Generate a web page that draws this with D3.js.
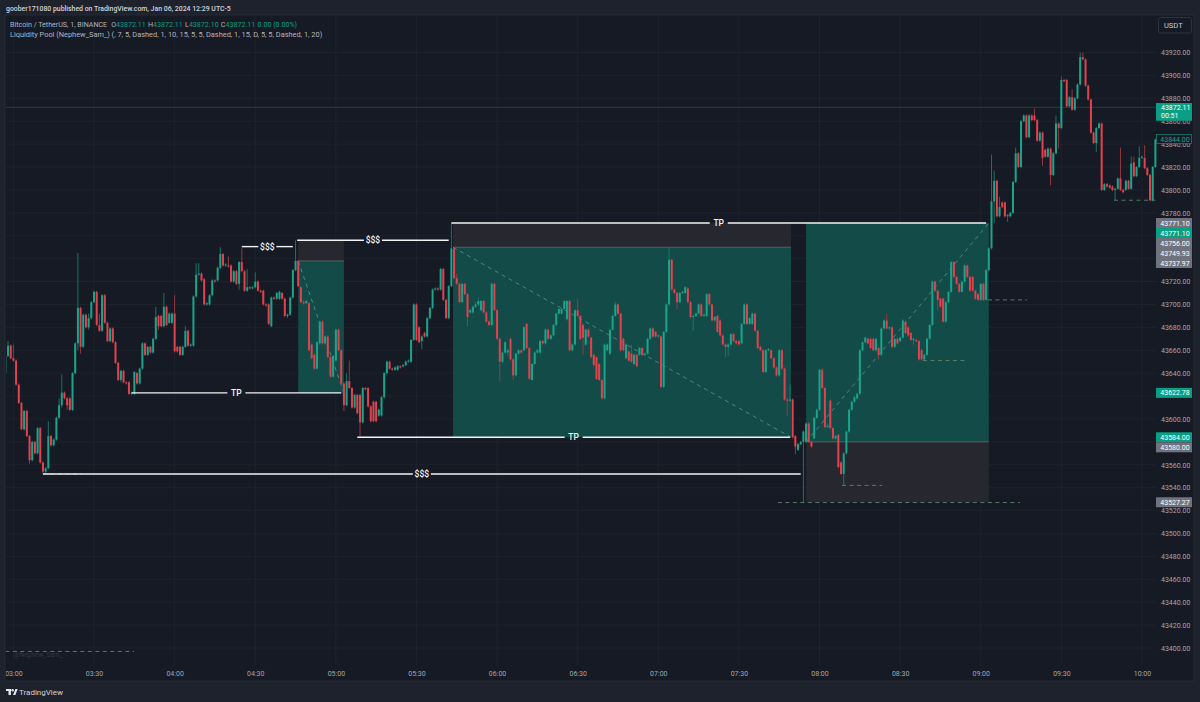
<!DOCTYPE html>
<html>
<head>
<meta charset="utf-8">
<script src="https://cdn.jsdelivr.net/npm/d3@7"></script>
<style>
  html, body { margin: 0; padding: 0; background: #1e222d; }
  svg { display: block; font-family: Roboto, sans-serif; }
</style>
</head>
<body>
<svg id="chart" width="1200" height="702"></svg>
<script>
// minutes since 03:00 of the first candle
const firstMinute = -3;

const opens = [
43640,43655,43664,43653,43651,43630,43614,43591,43607,43585,
43564,43580,43570,43592,43562,43554,43557,43585,43577,43582,
43601,43612,43623,43618,43618,43608,43640,43666,43697,43663,
43691,43680,43688,43702,43711,43682,43677,43708,43684,43668,
43679,43667,43649,43634,43642,43632,43632,43622,43622,43640,
43631,43644,43666,43656,43663,43658,43670,43690,43690,43681,
43698,43684,43684,43692,43663,43663,43656,43663,43677,43664,
43664,43707,43726,43727,43722,43700,43700,43708,43721,43721,
43732,43744,43734,43734,43734,43720,43729,43718,43737,43729,
43712,43715,43714,43715,43720,43712,43712,43700,43700,43681,
43706,43705,43705,43710,43705,43690,43691,43706,43730,43738,
43715,43702,43701,43701,43665,43656,43644,43666,43685,43666,
43672,43654,43637,43651,43678,43660,43631,43612,43633,43627,
43610,43621,43621,43597,43627,43627,43611,43615,43615,43603,
43603,43619,43640,43650,43644,43643,43643,43646,43646,43647,
43650,43650,43669,43700,43680,43668,43675,43672,43688,43697,
43713,43714,43713,43731,43704,43688,43716,43749,43723,43718,
43702,43718,43709,43693,43693,43698,43700,43695,43703,43693,
43685,43682,43718,43695,43670,43650,43658,43658,43670,43652,
43638,43657,43660,43660,43683,43662,43634,43648,43658,43658,
43668,43666,43678,43670,43673,43682,43692,43692,43696,43687,
43703,43660,43665,43695,43690,43682,43665,43678,43671,43656,
43654,43648,43634,43618,43660,43657,43678,43690,43700,43692,
43670,43653,43659,43657,43648,43656,43656,43662,43656,43657,
43670,43679,43676,43672,43672,43628,43676,43700,43739,43713,
43710,43702,43710,43710,43714,43702,43689,43690,43692,43700,
43690,43690,43709,43700,43686,43690,43686,43673,43665,43663,
43665,43674,43668,43668,43666,43683,43700,43683,43683,43692,
43677,43663,43660,43641,43660,43660,43653,43645,43638,43660,
43644,43617,43616,43617,43585,43573,43578,43580,43580,43596,
43580,43583,43601,43608,43643,43627,43593,43616,43592,43583,
43586,43562,43552,43570,43589,43608,43615,43618,43622,43660,
43667,43670,43670,43670,43660,43662,43656,43679,43686,43679,
43680,43663,43670,43668,43671,43685,43680,43675,43669,43669,
43668,43660,43652,43656,43670,43682,43720,43712,43705,43705,
43685,43702,43711,43737,43724,43718,43711,43720,43734,43724,
43724,43712,43709,43704,43718,43704,43730,43749,43790,43808,
43777,43789,43789,43778,43777,43780,43807,43832,43820,43860,
43865,43846,43865,43865,43861,43843,43850,43835,43829,43836,
43813,43832,43858,43854,43896,43896,43873,43881,43870,43880,
43892,43916,43914,43891,43879,43850,43841,43854,43858,43800,
43805,43804,43803,43800,43801,43810,43800,43800,43808,43801,
43824,43812,43820,43828,43828,43819,43813,43791,43820];

const highs = [
43668,43668,43665,43665,43652,43631,43615,43608,43608,43586,
43581,43581,43593,43593,43563,43558,43598,43586,43583,43602,
43618,43639,43624,43619,43619,43641,43667,43745,43698,43692,
43692,43692,43703,43712,43712,43692,43709,43709,43685,43680,
43680,43668,43650,43643,43643,43633,43633,43624,43642,43641,
43645,43667,43667,43664,43664,43671,43698,43691,43691,43710,
43699,43693,43693,43708,43664,43664,43664,43681,43678,43666,
43708,43736,43736,43728,43723,43702,43709,43722,43722,43733,
43750,43745,43736,43742,43735,43730,43730,43738,43749,43730,
43731,43716,43716,43728,43721,43713,43713,43701,43701,43707,
43707,43711,43712,43711,43706,43692,43707,43731,43756,43739,
43716,43704,43704,43702,43666,43657,43668,43686,43686,43673,
43673,43655,43656,43679,43679,43661,43632,43640,43651,43628,
43622,43622,43622,43628,43628,43628,43612,43616,43616,43609,
43620,43641,43651,43651,43645,43646,43647,43647,43648,43651,
43652,43670,43701,43701,43681,43673,43676,43689,43698,43714,
43715,43715,43732,43732,43705,43717,43771,43750,43727,43719,
43719,43719,43710,43696,43699,43702,43706,43704,43704,43694,
43686,43719,43719,43696,43671,43659,43668,43661,43671,43653,
43658,43661,43661,43681,43684,43663,43649,43659,43661,43669,
43669,43679,43679,43674,43683,43693,43697,43697,43704,43704,
43704,43666,43696,43705,43691,43684,43679,43679,43672,43657,
43655,43649,43635,43666,43666,43679,43691,43702,43701,43693,
43671,43666,43660,43665,43657,43657,43663,43663,43658,43671,
43680,43680,43677,43674,43673,43677,43701,43749,43740,43714,
43711,43711,43712,43716,43715,43703,43691,43693,43701,43701,
43692,43710,43710,43701,43690,43691,43687,43674,43666,43666,
43675,43675,43669,43669,43684,43701,43701,43689,43693,43693,
43678,43664,43661,43661,43662,43661,43654,43646,43661,43661,
43645,43618,43630,43618,43586,43579,43581,43590,43597,43597,
43581,43602,43609,43644,43644,43628,43596,43617,43593,43586,
43587,43563,43571,43590,43609,43616,43620,43623,43661,43668,
43672,43671,43671,43671,43671,43663,43680,43687,43692,43681,
43681,43671,43671,43672,43687,43686,43681,43676,43671,43670,
43669,43661,43657,43671,43683,43721,43721,43713,43706,43706,
43703,43712,43738,43738,43725,43719,43721,43735,43735,43725,
43725,43713,43710,43719,43719,43731,43750,43831,43817,43809,
43794,43790,43790,43779,43781,43808,43837,43833,43861,43866,
43866,43866,43866,43871,43862,43851,43851,43836,43837,43837,
43833,43865,43859,43899,43897,43897,43882,43888,43881,43893,
43920,43920,43915,43892,43880,43851,43855,43859,43859,43806,
43806,43805,43804,43802,43811,43837,43801,43809,43809,43829,
43829,43821,43838,43830,43839,43820,43814,43821,43845];

const lows = [
43635,43654,43652,43650,43629,43613,43590,43590,43584,43561,
43563,43569,43569,43561,43552,43553,43556,43576,43576,43581,
43600,43610,43617,43608,43607,43607,43639,43660,43657,43662,
43679,43678,43687,43701,43681,43676,43676,43683,43667,43667,
43666,43648,43633,43632,43631,43630,43621,43621,43621,43630,
43630,43643,43655,43655,43657,43657,43669,43678,43680,43680,
43681,43683,43683,43658,43658,43655,43655,43662,43663,43663,
43663,43706,43725,43720,43699,43699,43699,43707,43719,43720,
43731,43733,43733,43732,43719,43719,43717,43713,43728,43711,
43711,43713,43713,43714,43711,43710,43699,43698,43682,43680,
43704,43704,43704,43704,43689,43688,43690,43705,43729,43715,
43701,43700,43700,43659,43652,43643,43643,43665,43665,43665,
43653,43636,43636,43650,43659,43630,43607,43611,43626,43609,
43609,43604,43585,43596,43625,43610,43597,43597,43597,43602,
43602,43618,43639,43643,43642,43642,43642,43644,43645,43646,
43649,43649,43668,43668,43666,43661,43671,43671,43687,43696,
43712,43712,43712,43703,43687,43687,43715,43722,43717,43701,
43701,43708,43681,43692,43692,43697,43699,43694,43692,43684,
43681,43681,43694,43669,43633,43649,43657,43655,43651,43634,
43637,43656,43657,43659,43661,43634,43633,43647,43657,43657,
43665,43665,43669,43669,43672,43681,43691,43691,43695,43686,
43659,43659,43664,43689,43669,43656,43664,43671,43653,43646,
43634,43633,43617,43617,43659,43656,43677,43689,43691,43659,
43659,43652,43650,43649,43647,43645,43655,43655,43655,43656,
43669,43671,43671,43671,43627,43627,43675,43699,43712,43709,
43696,43701,43709,43709,43701,43688,43677,43689,43691,43689,
43689,43689,43699,43685,43685,43675,43672,43664,43654,43655,
43664,43667,43665,43664,43665,43682,43682,43682,43682,43676,
43661,43659,43640,43640,43659,43652,43644,43637,43637,43643,
43616,43603,43615,43583,43569,43572,43577,43527,43579,43579,
43575,43582,43600,43607,43626,43592,43592,43591,43582,43582,
43557,43551,43542,43569,43588,43607,43614,43617,43621,43659,
43666,43665,43661,43659,43659,43652,43655,43678,43678,43678,
43662,43662,43665,43667,43670,43674,43672,43668,43665,43667,
43651,43651,43651,43655,43669,43681,43711,43695,43697,43684,
43684,43701,43710,43723,43717,43710,43710,43719,43723,43711,
43711,43704,43703,43703,43703,43703,43729,43748,43771,43776,
43776,43784,43776,43772,43776,43779,43806,43819,43819,43859,
43845,43845,43860,43860,43842,43842,43821,43828,43828,43804,
43812,43831,43836,43853,43894,43872,43872,43869,43869,43879,
43891,43913,43890,43878,43849,43840,43833,43853,43799,43799,
43802,43801,43799,43791,43800,43799,43797,43799,43800,43800,
43811,43811,43819,43827,43818,43812,43790,43790,43819];

const closes = [
43655,43664,43653,43651,43630,43614,43591,43607,43585,43564,
43580,43570,43592,43562,43554,43557,43585,43577,43582,43601,
43612,43623,43618,43612,43608,43640,43666,43697,43663,43691,
43680,43688,43702,43711,43682,43677,43708,43684,43668,43679,
43667,43649,43634,43642,43632,43631,43622,43623,43641,43631,
43644,43666,43656,43663,43658,43670,43689,43681,43681,43698,
43682,43692,43692,43659,43659,43656,43663,43677,43664,43665,
43707,43726,43727,43721,43700,43701,43708,43721,43720,43732,
43744,43734,43735,43733,43720,43729,43718,43737,43729,43712,
43715,43714,43715,43720,43712,43711,43700,43699,43683,43706,
43705,43710,43711,43705,43690,43691,43706,43730,43738,43716,
43702,43701,43703,43660,43653,43644,43667,43685,43666,43672,
43654,43637,43655,43678,43660,43631,43612,43633,43627,43610,
43621,43605,43597,43627,43626,43611,43598,43598,43598,43608,
43619,43640,43650,43644,43643,43645,43646,43645,43647,43650,
43651,43669,43700,43669,43667,43672,43672,43688,43697,43713,
43714,43713,43731,43704,43688,43716,43749,43723,43718,43702,
43718,43709,43689,43695,43698,43700,43703,43703,43693,43685,
43682,43718,43695,43670,43650,43658,43667,43660,43652,43638,
43657,43660,43658,43680,43662,43635,43648,43658,43660,43668,
43666,43678,43670,43673,43682,43692,43696,43696,43703,43703,
43660,43665,43695,43690,43670,43671,43678,43672,43654,43647,
43635,43634,43618,43665,43665,43678,43690,43700,43692,43660,
43660,43665,43651,43650,43656,43646,43662,43656,43657,43670,
43679,43672,43672,43673,43628,43676,43700,43739,43713,43710,
43702,43710,43711,43715,43702,43689,43690,43692,43700,43690,
43691,43709,43700,43686,43689,43676,43673,43665,43663,43665,
43674,43668,43666,43665,43683,43700,43683,43688,43692,43677,
43662,43660,43641,43660,43661,43653,43645,43638,43660,43644,
43617,43616,43617,43584,43576,43578,43580,43589,43596,43580,
43576,43601,43608,43643,43627,43593,43594,43592,43583,43585,
43558,43552,43570,43589,43608,43615,43619,43622,43660,43667,
43671,43666,43662,43660,43670,43656,43679,43686,43679,43680,
43663,43670,43666,43671,43686,43675,43673,43669,43670,43668,
43652,43652,43656,43670,43682,43720,43712,43704,43698,43685,
43702,43711,43737,43724,43718,43711,43720,43734,43724,43712,
43712,43705,43704,43718,43704,43730,43749,43790,43808,43777,
43785,43785,43777,43777,43780,43807,43832,43820,43860,43865,
43846,43865,43861,43861,43843,43850,43828,43829,43836,43813,
43832,43858,43854,43896,43895,43873,43881,43870,43880,43892,
43916,43914,43891,43879,43850,43841,43854,43858,43800,43805,
43803,43802,43800,43801,43810,43800,43798,43808,43801,43823,
43812,43820,43828,43829,43819,43813,43791,43820,43844];

// axis ticks
const timeTicks = [0, 30, 60, 90, 120, 150, 180, 210, 240, 270, 300, 330, 360, 390, 420];
const timeLabels = ["03:00", "03:30", "04:00", "04:30", "05:00", "05:30", "06:00", "06:30", "07:00", "07:30", "08:00", "08:30", "09:00", "09:30", "10:00"];
const priceTicks = d3.range(43400, 43921, 20);
// these sit fully behind a price tag in the picture
const coveredTicks = [43760, 43740, 43620, 43580];

// position tool boxes: left, right, entry, stop, target
const boxLeft = [106, 163.6, 295];
const boxRight = [123, 289.4, 363];
const boxEntry = [43737.97, 43749.93, 43580];
const boxStop = [43756, 43771.10, 43527.27];
const boxTarget = [43622.78, 43584, 43771.10];

// white liquidity lines with a label in the middle
const levelStart = [85, 105.6, 44, 163, 128, 11];
const levelEnd = [104, 162, 122, 362, 289, 293];
const levelPrice = [43750.5, 43756, 43622.78, 43771.10, 43584, 43552];
const levelText = ["$$$", "$$$", "TP", "TP", "TP", "$$$"];

// thin dashed liquidity marks
const dashStart = [-3, 11, 284.5, 308.4, 338.5, 362.7, 409.6];
const dashEnd = [44.9, 25.5, 374.6, 323.3, 354.2, 377.2, 425];
const dashPrice = [43397, 43552, 43527, 43542, 43651, 43704, 43791];

// price scale tags, top to bottom
const tagValues = [43771.10, 43771.10, 43756, 43749.93, 43737.97, 43622.78, 43584, 43580, 43527.27];
const tagKinds = ["grey", "teal", "grey", "grey", "grey", "teal", "teal", "grey", "grey"];

const lastPrice = 43872.11;
const lastCountdown = "00:51";
const prevClose = 43844;

const GREEN = "#1aa58b";
const RED = "#e0434f";
const TEAL = "#0a9f85";
const BG = "#161a24";
const GRID = "#20242e";
const AXIS_TEXT = "#a3a6af";
const FS = 7;

const svg = d3.select("#chart");

const x = d3.scaleLinear().domain([0, 425]).range([13.4, 1155.4]);
const y = d3.scaleLinear().domain([43400, 43920]).range([648, 52.5]);

// panels
svg.append("rect").attr("width", 1200).attr("height", 702).attr("fill", "#1e222d");
svg.append("rect").attr("x", 5).attr("y", 15).attr("width", 1189).attr("height", 666)
    .attr("fill", BG).attr("stroke", "#2a2e39").attr("stroke-width", 0.8);

svg.append("clipPath").attr("id", "panel")
    .append("rect").attr("x", 6).attr("y", 15).attr("width", 1188).attr("height", 666);

const plot = svg.append("g").attr("clip-path", "url(#panel)");

// grid
plot.selectAll(".gridx").data(timeTicks).enter().append("line")
    .attr("x1", d => x(d)).attr("x2", d => x(d))
    .attr("y1", 15).attr("y2", 665)
    .attr("stroke", GRID).attr("stroke-width", 0.8);
plot.selectAll(".gridy").data(priceTicks).enter().append("line")
    .attr("x1", 6).attr("x2", 1156)
    .attr("y1", d => y(d)).attr("y2", d => y(d))
    .attr("stroke", GRID).attr("stroke-width", 0.8);

// last price line
plot.append("line")
    .attr("x1", 6).attr("x2", 1156)
    .attr("y1", y(lastPrice)).attr("y2", y(lastPrice))
    .attr("stroke", "#2a4a48").attr("stroke-width", 0.8);

// position boxes
boxLeft.forEach((left, i) => {
    const right = boxRight[i];
    const w = x(right) - x(left);
    plot.append("rect")
        .attr("x", x(left)).attr("width", w)
        .attr("y", Math.min(y(boxStop[i]), y(boxEntry[i])))
        .attr("height", Math.abs(y(boxStop[i]) - y(boxEntry[i])))
        .attr("fill", "#27282f");
    plot.append("rect")
        .attr("x", x(left)).attr("width", w)
        .attr("y", Math.min(y(boxTarget[i]), y(boxEntry[i])))
        .attr("height", Math.abs(y(boxTarget[i]) - y(boxEntry[i])))
        .attr("fill", "#134b48");
    plot.append("line")
        .attr("x1", x(left)).attr("x2", x(right))
        .attr("y1", y(boxEntry[i])).attr("y2", y(boxEntry[i]))
        .attr("stroke", "#55625f").attr("stroke-width", 1);
    // dashed path across the box
    plot.append("line")
        .attr("x1", x(left)).attr("x2", x(right))
        .attr("y1", y(boxEntry[i])).attr("y2", y(boxTarget[i]))
        .attr("stroke", "#4f9084").attr("stroke-width", 0.9)
        .attr("stroke-dasharray", "4 4");
});

// candles
const minutes = closes.map((d, i) => firstMinute + i);
plot.selectAll(".wick").data(minutes).enter().append("line")
    .attr("x1", d => x(d)).attr("x2", d => x(d))
    .attr("y1", (d, i) => y(highs[i]))
    .attr("y2", (d, i) => y(lows[i]))
    .attr("stroke", (d, i) => closes[i] >= opens[i] ? "#157f6f" : "#a33a46")
    .attr("stroke-width", 0.9);
plot.selectAll(".body").data(minutes).enter().append("rect")
    .attr("x", d => x(d) - 1)
    .attr("width", 2)
    .attr("y", (d, i) => y(Math.max(opens[i], closes[i])))
    .attr("height", (d, i) => Math.max(1, Math.abs(y(opens[i]) - y(closes[i]))))
    .attr("fill", (d, i) => closes[i] >= opens[i] ? GREEN : RED);

// dashed marks
dashStart.forEach((s, i) => {
    plot.append("line")
        .attr("x1", x(s)).attr("x2", x(dashEnd[i]))
        .attr("y1", y(dashPrice[i])).attr("y2", y(dashPrice[i]))
        .attr("stroke", "#5c8570").attr("stroke-width", 0.9)
        .attr("stroke-dasharray", "4 3.5");
});

// white levels, broken around the label
levelStart.forEach((s, i) => {
    const x1 = x(s), x2 = x(levelEnd[i]), mid = (x1 + x2) / 2, gap = 9;
    const py = y(levelPrice[i]);
    [[x1, mid - gap], [mid + gap, x2]].forEach(seg => {
        plot.append("line")
            .attr("x1", seg[0]).attr("x2", seg[1])
            .attr("y1", py).attr("y2", py)
            .attr("stroke", "#f2f3f5").attr("stroke-width", 1.4);
    });
    plot.append("text")
        .attr("x", mid).attr("y", py + 3)
        .attr("text-anchor", "middle")
        .attr("fill", "#f2f3f5").attr("font-size", 8.5).attr("font-weight", 500)
        .text(levelText[i]);
});

// axes
const timeAxis = d3.axisBottom(x)
    .tickValues(timeTicks)
    .tickFormat((d, i) => timeLabels[i])
    .tickSize(0).tickPadding(0);
const gTime = plot.append("g").attr("transform", "translate(0,671)").call(timeAxis);
gTime.select(".domain").remove();
gTime.selectAll("text").attr("fill", AXIS_TEXT).attr("font-size", FS).attr("font-family", "Roboto, sans-serif");

const priceAxis = d3.axisRight(y)
    .tickValues(priceTicks.filter(d => !coveredTicks.includes(d)))
    .tickFormat(d3.format(".2f"))
    .tickSize(0).tickPadding(0);
const gPrice = svg.append("g").attr("transform", "translate(1161,0)").call(priceAxis);
gPrice.select(".domain").remove();
gPrice.selectAll("text").attr("fill", AXIS_TEXT).attr("font-size", FS).attr("font-family", "Roboto, sans-serif");

// price scale tags, stacked downward when they would overlap
let lastBottom = -Infinity;
tagValues.forEach((v, i) => {
    const cy = Math.max(y(v), lastBottom + 5);
    lastBottom = cy + 5;
    svg.append("rect")
        .attr("x", 1156).attr("y", cy - 5).attr("width", 36).attr("height", 10)
        .attr("fill", tagKinds[i] === "teal" ? TEAL : "#70737e");
    svg.append("text")
        .attr("x", 1175).attr("y", cy + 2.6)
        .attr("text-anchor", "middle")
        .attr("fill", "#fff").attr("font-size", FS)
        .text(d3.format(".2f")(v));
});

// current price with countdown
svg.append("rect").attr("x", 1156).attr("y", y(lastPrice) - 4.3).attr("width", 36).attr("height", 17.7).attr("fill", TEAL);
svg.append("text").attr("x", 1161).attr("y", y(lastPrice) + 2.6).attr("fill", "#fff").attr("font-size", FS).text(d3.format(".2f")(lastPrice));
svg.append("text").attr("x", 1161).attr("y", y(lastPrice) + 11).attr("fill", "#fff").attr("font-size", FS).text(lastCountdown);

// previous close tag
svg.append("rect").attr("x", 1156.5).attr("y", y(prevClose) - 5).attr("width", 35).attr("height", 9)
    .attr("fill", BG).attr("stroke", "#157f6f").attr("stroke-width", 0.8);
svg.append("text").attr("x", 1175).attr("y", y(prevClose) + 2)
    .attr("text-anchor", "middle").attr("fill", "#1aa58b").attr("font-size", FS).text(d3.format(".2f")(prevClose));

// currency button
svg.append("rect").attr("x", 1158.5).attr("y", 17.5).attr("width", 33).attr("height", 15.5).attr("rx", 2)
    .attr("fill", "#161a24").attr("stroke", "#2f333e");
svg.append("text").attr("x", 1164).attr("y", 28).attr("fill", "#c9ccd3").attr("font-size", 7.5).text("USDT");

// header
svg.append("text").attr("x", 6).attr("y", 11).attr("fill", "#d1d4dc").attr("font-size", 6.9).attr("font-weight", 500)
    .text("goober171080 published on TradingView.com, Jan 06, 2024 12:29 UTC-5");

const legend = svg.append("text").attr("x", 10).attr("y", 26.5).attr("font-size", 7.1).attr("fill", "#b2b5be");
legend.append("tspan").text("Bitcoin / TetherUS, 1, BINANCE");
[["O", "43872.11"], ["H", "43872.11"], ["L", "43872.10"], ["C", "43872.11"]].forEach((p, i) => {
    legend.append("tspan").attr("dx", i === 0 ? 4 : 2.2).text(p[0]);
    legend.append("tspan").attr("fill", TEAL).text(p[1]);
});
legend.append("tspan").attr("dx", 2.3).attr("fill", TEAL).text("0.00 (0.00%)");

svg.append("text").attr("x", 10).attr("y", 36.5).attr("font-size", 7.4).attr("fill", "#b2b5be")
    .text("Liquidity Pool (Nephew_Sam_) (, 7, 5, Dashed, 1, 10, 15, 5, 5, Dashed, 1, 15, D, 5, 5, Dashed, 1, 20)");

// watermark
svg.append("text").attr("x", 14).attr("y", 657).attr("font-size", 6.5).attr("fill", "#343842").text("@Nephew_Sam_");

// logo
const logo = svg.append("g").attr("fill", "#e6e8ec");
logo.append("rect").attr("x", 6).attr("y", 689).attr("width", 5).attr("height", 2);
logo.append("rect").attr("x", 8.5).attr("y", 689).attr("width", 2.4).attr("height", 6);
logo.append("circle").attr("cx", 12.6).attr("cy", 690.2).attr("r", 1.2);
logo.append("path").attr("d", "M13 695 L15.4 689 L17.6 689 L15.4 695 Z");
svg.append("text").attr("x", 19).attr("y", 694.5).attr("font-size", 8).attr("fill", "#d1d4dc").text("TradingView");
</script>
</body>
</html>
